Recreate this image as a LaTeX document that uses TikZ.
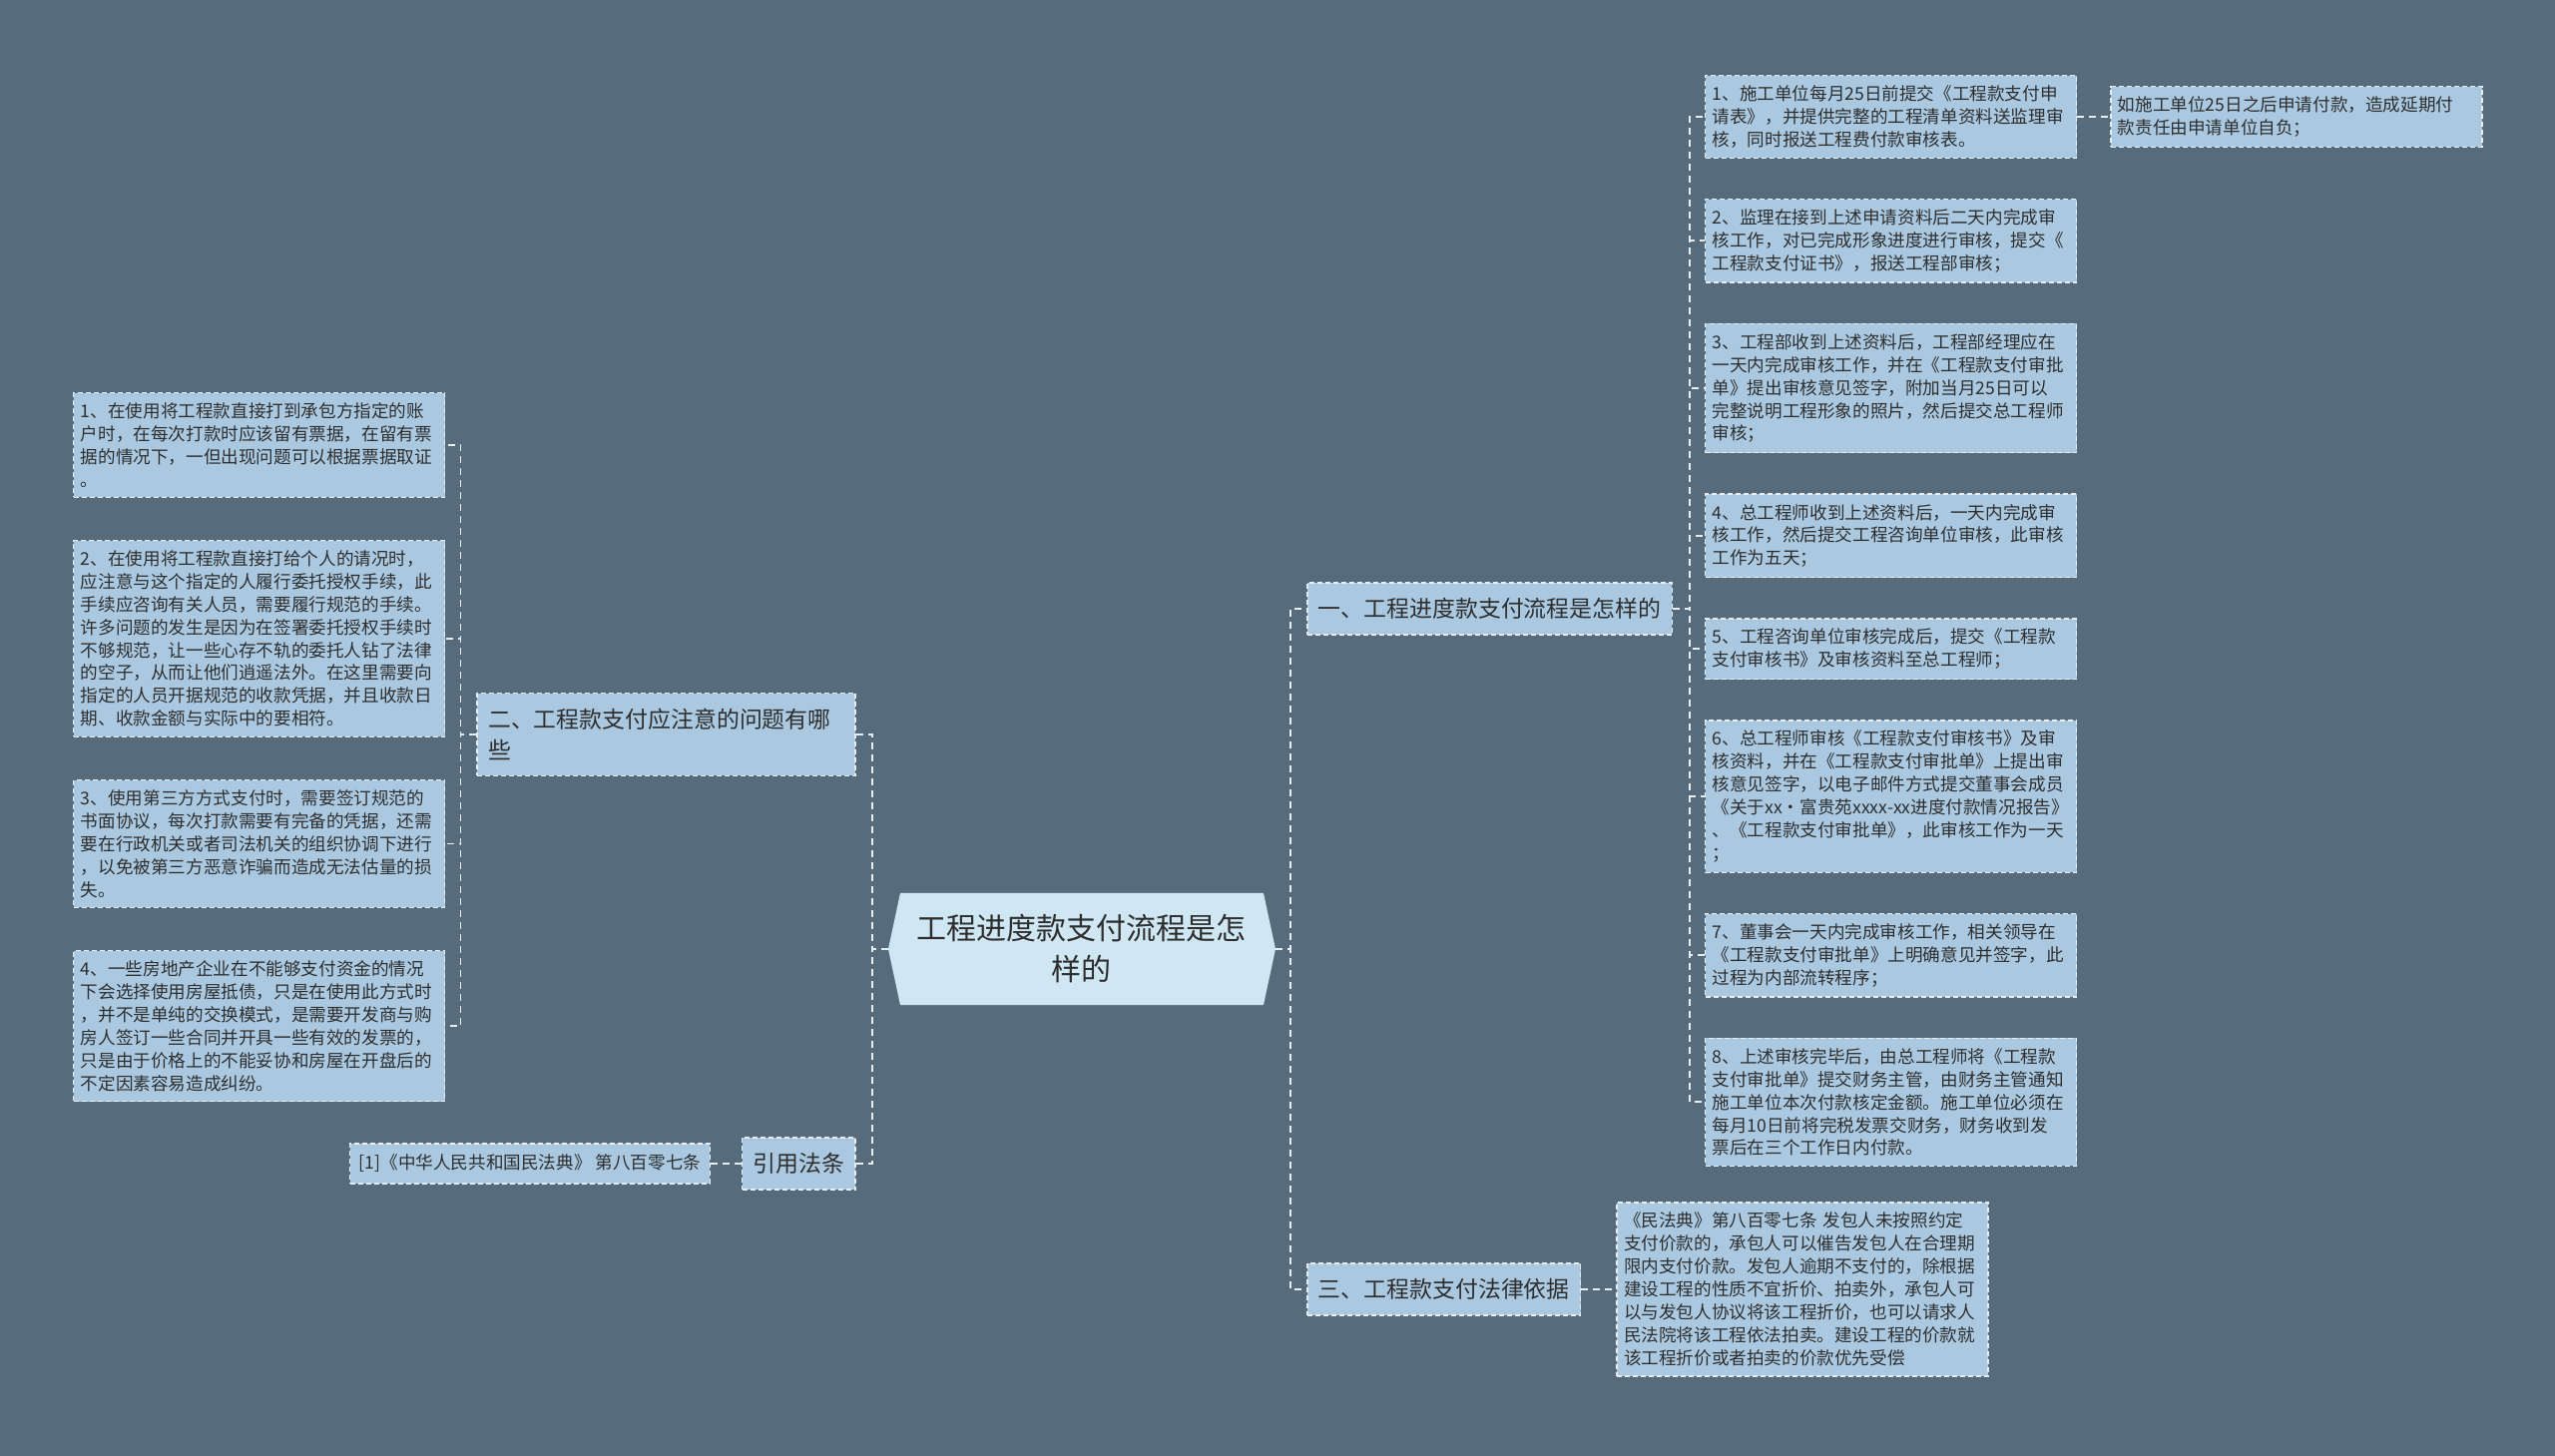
\documentclass[tikz,border=0pt]{standalone}
\usepackage{fontspec}
\setmainfont{Noto Sans CJK SC}
\usetikzlibrary{positioning}

\definecolor{bgslate}{HTML}{566B7B}
\definecolor{leafblue}{HTML}{AAC9E1}
\definecolor{rootblue}{HTML}{CFE6F3}
\definecolor{inkgray}{HTML}{2E2E2E}
\definecolor{dashwhite}{HTML}{E6EEF3}

\tikzset{
  box/.style={fill=leafblue, draw=dashwhite, dash pattern=on 5pt off 3pt, line width=1.3pt, text=inkgray, align=left},
  leaf/.style={box, text width=358pt, inner xsep=7pt, inner ysep=10pt, font=\fontsize{17.6}{22.9}\selectfont},
  note/.style={box, inner xsep=9pt, inner ysep=11pt, font=\fontsize{17.6}{22.9}\selectfont},
  branch/.style={box, inner xsep=11pt, inner ysep=15.5pt, font=\fontsize{22.9}{31}\selectfont},
  hub/.style={rectangle, fill=bgslate, minimum width=388pt, minimum height=112pt, inner sep=0pt,
    align=center, text=inkgray, font=\fontsize{30}{41}\selectfont,
    path picture={\fill[rootblue] (path picture bounding box.west)
      -- ([xshift=12pt]path picture bounding box.north west)
      -- ([xshift=-12pt]path picture bounding box.north east)
      -- (path picture bounding box.east)
      -- ([xshift=-12pt]path picture bounding box.south east)
      -- ([xshift=12pt]path picture bounding box.south west) -- cycle;}},
  link/.style={draw=dashwhite, dash pattern=on 7pt off 5pt, line width=1.8pt}
}

\begin{document}
\begin{tikzpicture}[x=1pt, y=1pt, node distance=40pt]
	\path[use as bounding box, fill=bgslate] (-1084,951) rectangle (1476,-508);

	\node (m) [hub] {工程进度款支付流程是怎\\样的};

	\node (b1) [branch, above right=341pt and 31pt of m.east, anchor=west] {一、工程进度款支付流程是怎样的};
	\node (b3) [branch, below right=341pt and 31pt of m.east, anchor=west] {三、工程款支付法律依据};
	\node (b2) [branch, text width=357pt, above left=215pt and 32pt of m.west, anchor=east] {二、工程款支付应注意的问题有哪\\些};
	\node (b4) [branch, below left=215pt and 32pt of m.west, anchor=east] {引用法条};

	\node (p1) [leaf, above right=535pt and 32pt of b1.east, anchor=north west] {1、施工单位每月25日前提交《工程款支付申\\请表》，并提供完整的工程清单资料送监理审\\核，同时报送工程费付款审核表。};
	\node (p2) [leaf, below=of p1] {2、监理在接到上述申请资料后二天内完成审\\核工作，对已完成形象进度进行审核，提交《\\工程款支付证书》，报送工程部审核；};
	\node (p3) [leaf, below=of p2] {3、工程部收到上述资料后，工程部经理应在\\一天内完成审核工作，并在《工程款支付审批\\单》提出审核意见签字，附加当月25日可以\\完整说明工程形象的照片，然后提交总工程师\\审核；};
	\node (p4) [leaf, below=of p3] {4、总工程师收到上述资料后，一天内完成审\\核工作，然后提交工程咨询单位审核，此审核\\工作为五天；};
	\node (p5) [leaf, below=of p4] {5、工程咨询单位审核完成后，提交《工程款\\支付审核书》及审核资料至总工程师；};
	\node (p6) [leaf, below=of p5] {6、总工程师审核《工程款支付审核书》及审\\核资料，并在《工程款支付审批单》上提出审\\核意见签字，以电子邮件方式提交董事会成员\\《关于xx·富贵苑xxxx-xx进度付款情况报告》\\、《工程款支付审批单》，此审核工作为一天\\；};
	\node (p7) [leaf, below=of p6] {7、董事会一天内完成审核工作，相关领导在\\《工程款支付审批单》上明确意见并签字，此\\过程为内部流转程序；};
	\node (p8) [leaf, below=of p7] {8、上述审核完毕后，由总工程师将《工程款\\支付审批单》提交财务主管，由财务主管通知\\施工单位本次付款核定金额。施工单位必须在\\每月10日前将完税发票交财务，财务收到发\\票后在三个工作日内付款。};
	\node (p1x) [leaf, right=33pt of p1] {如施工单位25日之后申请付款，造成延期付\\款责任由申请单位自负；};

	\node (q1) [leaf, right=35pt of b3] {《民法典》第八百零七条 发包人未按照约定\\支付价款的，承包人可以催告发包人在合理期\\限内支付价款。发包人逾期不支付的，除根据\\建设工程的性质不宜折价、拍卖外，承包人可\\以与发包人协议将该工程折价，也可以请求人\\民法院将该工程依法拍卖。建设工程的价款就\\该工程折价或者拍卖的价款优先受偿};

	\node (s1) [leaf, above left=343pt and 31pt of b2.west, anchor=north east] {1、在使用将工程款直接打到承包方指定的账\\户时，在每次打款时应该留有票据，在留有票\\据的情况下，一但出现问题可以根据票据取证\\。};
	\node (s2) [leaf, below=42pt of s1] {2、在使用将工程款直接打给个人的请况时，\\应注意与这个指定的人履行委托授权手续，此\\手续应咨询有关人员，需要履行规范的手续。\\许多问题的发生是因为在签署委托授权手续时\\不够规范，让一些心存不轨的委托人钻了法律\\的空子，从而让他们逍遥法外。在这里需要向\\指定的人员开据规范的收款凭据，并且收款日\\期、收款金额与实际中的要相符。};
	\node (s3) [leaf, below=42pt of s2] {3、使用第三方方式支付时，需要签订规范的\\书面协议，每次打款需要有完备的凭据，还需\\要在行政机关或者司法机关的组织协调下进行\\，以免被第三方恶意诈骗而造成无法估量的损\\失。};
	\node (s4) [leaf, below=42pt of s3] {4、一些房地产企业在不能够支付资金的情况\\下会选择使用房屋抵债，只是在使用此方式时\\，并不是单纯的交换模式，是需要开发商与购\\房人签订一些合同并开具一些有效的发票的，\\只是由于价格上的不能妥协和房屋在开盘后的\\不定因素容易造成纠纷。};

	\node (r1) [note, left=31pt of b4] {[1]《中华人民共和国民法典》 第八百零七条};

	\draw[link] (m.east) -- ++(15pt,0) |- (b1.west);
	\draw[link] (m.east) -- ++(15pt,0) |- (b3.west);
	\draw[link] (m.west) -- ++(-16pt,0) |- (b2.east);
	\draw[link] (m.west) -- ++(-16pt,0) |- (b4.east);
	\draw[link] (b1.east) -- ++(17pt,0) |- (p1.west);
	\draw[link] (b1.east) -- ++(17pt,0) |- (p2.west);
	\draw[link] (b1.east) -- ++(17pt,0) |- (p3.west);
	\draw[link] (b1.east) -- ++(17pt,0) |- (p4.west);
	\draw[link] (b1.east) -- ++(17pt,0) |- (p5.west);
	\draw[link] (b1.east) -- ++(17pt,0) |- (p6.west);
	\draw[link] (b1.east) -- ++(17pt,0) |- (p7.west);
	\draw[link] (b1.east) -- ++(17pt,0) |- (p8.west);
	\draw[link] (p1.east) -- (p1x.west);
	\draw[link] (b3.east) -- (q1.west);
	\draw[link] (b2.west) -- ++(-16pt,0) |- (s1.east);
	\draw[link] (b2.west) -- ++(-16pt,0) |- (s2.east);
	\draw[link] (b2.west) -- ++(-16pt,0) |- (s3.east);
	\draw[link] (b2.west) -- ++(-16pt,0) |- (s4.east);
	\draw[link] (b4.west) -- (r1.east);
\end{tikzpicture}
\end{document}
